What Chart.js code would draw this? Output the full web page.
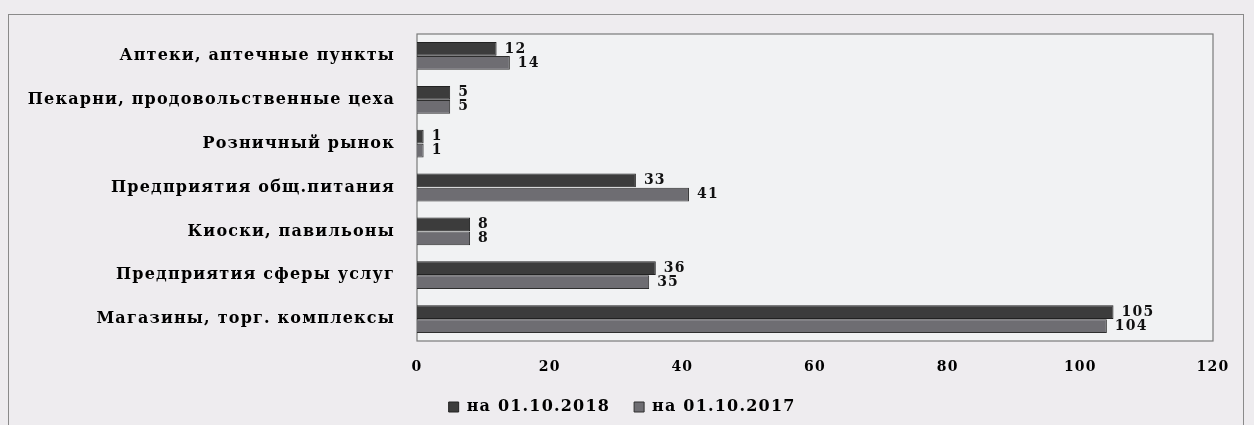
<!DOCTYPE html>
<html>
<head>
<meta charset="utf-8">
<script src="https://cdn.jsdelivr.net/npm/chart.js@4.4.1/dist/chart.umd.min.js"></script>
<style>
    body { margin: 0; background: #eeecef; }
    #wrap { position: relative; width: 1254px; height: 425px; }
    #frame { position: absolute; left: 8px; top: 14px; width: 1234px; height: 420px; border: 1px solid #8a8a8a; }
    canvas { position: absolute; left: 0; top: 0; }
</style>
</head>
<body>
<div id="wrap">
    <div id="frame"></div>
    <canvas id="shopsChart" width="1254" height="425"></canvas>
</div>
<script>
// Категории (сверху вниз) и значения по годам
const categories = [
    'Аптеки, аптечные пункты',
    'Пекарни, продовольственные цеха',
    'Розничный рынок',
    'Предприятия общ.питания',
    'Киоски, павильоны',
    'Предприятия сферы услуг',
    'Магазины, торг. комплексы'
];
const values2018 = [12, 5, 1, 33, 8, 36, 105];
const values2017 = [14, 5, 1, 41, 8, 35, 104];
const seriesNames = ['на 01.10.2018', 'на 01.10.2017'];
const xTicks = [0, 20, 40, 60, 80, 100, 120];

const FONT = 'DejaVu Serif';

// рамка и фон области построения
const plotFrame = {
    id: 'plotFrame',
    beforeDraw(chart) {
        chart.ctx.letterSpacing = '1.2px';
    },
    beforeDatasetsDraw(chart) {
        const a = chart.chartArea;
        const ctx = chart.ctx;
        ctx.save();
        ctx.fillStyle = '#f1f2f3';
        ctx.fillRect(a.left, a.top, a.right - a.left, a.bottom - a.top);
        ctx.strokeStyle = '#7a7a7a';
        ctx.lineWidth = 1.2;
        ctx.strokeRect(a.left, a.top, a.right - a.left, a.bottom - a.top);
        ctx.restore();
    }
};

// подписи значений справа от столбцов
const barValues = {
    id: 'barValues',
    afterDatasetsDraw(chart) {
        const ctx = chart.ctx;
        ctx.save();
        ctx.font = 'bold 14px ' + FONT;
        ctx.fillStyle = '#111';
        ctx.textAlign = 'left';
        ctx.textBaseline = 'middle';
        chart.data.datasets.forEach((ds, i) => {
            chart.getDatasetMeta(i).data.forEach((bar, j) => {
                ctx.fillText(ds.data[j], bar.x + 8, bar.y);
            });
        });
        ctx.restore();
    }
};

let shopsChart;
document.addEventListener('DOMContentLoaded', function() {
    const ctx = document.getElementById('shopsChart').getContext('2d');
    shopsChart = new Chart(ctx, {
        type: 'bar',
        data: {
            labels: categories,
            datasets: [{
                label: seriesNames[0],
                data: values2018,
                backgroundColor: '#3c3c3c',
                borderColor: '#222',
                borderWidth: 1,
                categoryPercentage: 0.64,
                barPercentage: 0.98
            }, {
                label: seriesNames[1],
                data: values2017,
                backgroundColor: '#6e6d72',
                borderColor: '#2e2e2e',
                borderWidth: 1,
                categoryPercentage: 0.64,
                barPercentage: 0.98
            }]
        },
        plugins: [plotFrame, barValues],
        options: {
            indexAxis: 'y',
            responsive: false,
            animation: false,
            layout: {
                padding: { top: 34, right: 41, left: 0, bottom: 0 }
            },
            scales: {
                x: {
                    min: 0,
                    max: 120,
                    afterBuildTicks: (scale) => {
                        scale.ticks = xTicks.map(v => ({ value: v }));
                    },
                    afterFit: (scale) => { scale.height = 34; },
                    grid: { display: false },
                    border: { display: false },
                    ticks: {
                        padding: 10,
                        color: '#000',
                        font: { family: FONT, weight: 'bold', size: 14 }
                    }
                },
                y: {
                    afterFit: (scale) => { scale.width = 417; },
                    grid: { display: false },
                    border: { display: false },
                    ticks: {
                        padding: 14,
                        color: '#000',
                        font: { family: FONT, weight: 'bold', size: 16 }
                    }
                }
            },
            plugins: {
                tooltip: { enabled: false },
                legend: {
                    position: 'bottom',
                    labels: {
                        boxWidth: 10,
                        boxHeight: 10,
                        padding: 24,
                        color: '#000',
                        font: { family: FONT, weight: 'bold', size: 16 }
                    }
                }
            }
        }
    });
});
</script>
</body>
</html>
